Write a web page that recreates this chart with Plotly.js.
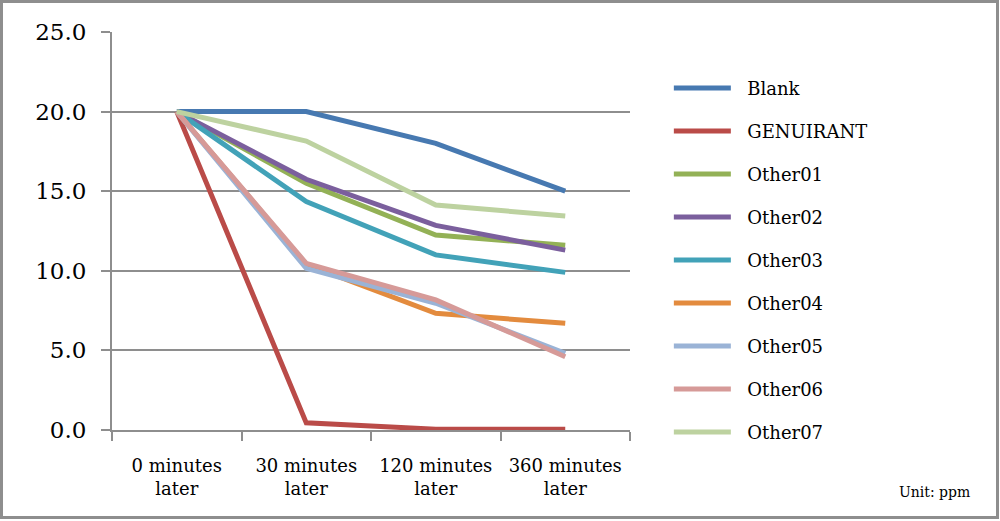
<!DOCTYPE html>
<html>
<head>
<meta charset="utf-8">
<script src="https://cdn.plot.ly/plotly-3.0.1.min.js"></script>
<style>
html,body{margin:0;padding:0;background:#fff;}
#chart{width:1000px;height:521px;}
#frame{position:absolute;left:0;top:0;width:999px;height:519px;box-sizing:border-box;border:3px solid #8e8e8e;pointer-events:none;}
</style>
</head>
<body>
<div id="chart"></div>
<div id="frame"></div>
<script>
const categories = ["0 minutes<br>later", "30 minutes<br>later", "120 minutes<br>later", "360 minutes<br>later"];
const seriesNames = ["Blank", "GENUIRANT", "Other01", "Other02", "Other03", "Other04", "Other05", "Other06", "Other07"];
const blank     = [20, 20, 18.0, 15.0];
const genuirant = [20, 0.45, 0.05, 0.04];
const other01   = [20, 15.5, 12.25, 11.6];
const other02   = [20, 15.75, 12.85, 11.3];
const other03   = [20, 14.35, 11.0, 9.9];
const other04   = [20, 10.4, 7.33, 6.7];
const other05   = [20, 10.15, 7.96, 4.82];
const other06   = [20, 10.47, 8.17, 4.6];
const other07   = [20, 18.15, 14.13, 13.44];
const yTicks = [0, 5, 10, 15, 20, 25];
const colors = ["#4779B1", "#BA4B48", "#93B156", "#7B5F9D", "#42A2B8", "#E38B3E", "#9AB3D6", "#D69A98", "#BDD2A0"];
const allValues = [blank, genuirant, other01, other02, other03, other04, other05, other06, other07];

const FONT = "DejaVu Serif, Liberation Serif, serif";
const NB = "\u00a0\u00a0";

const traces = allValues.map((vals, i) => ({
  type: "scatter",
  mode: "lines",
  name: NB + seriesNames[i],
  x: categories,
  y: vals,
  legendgroup: "g" + i,
  line: {color: colors[i], width: 5},
  hoverinfo: "skip"
}));

const layout = {
  width: 1000,
  height: 521,
  margin: {l: 112, r: 370, t: 32, b: 91},
  paper_bgcolor: "#ffffff",
  plot_bgcolor: "#ffffff",
  font: {family: FONT, color: "#000000"},
  showlegend: true,
  legend: {
    x: 1.075, xanchor: "left",
    y: 0.905, yanchor: "top",
    font: {family: FONT, size: 18, color: "#000"},
    itemwidth: 57,
    tracegroupgap: 16.6,
    traceorder: "grouped",
    bgcolor: "rgba(0,0,0,0)"
  },
  xaxis: {
    type: "category",
    range: [-0.5, 3.5],
    showgrid: false,
    showline: true,
    linecolor: "#8e8e8e",
    linewidth: 2,
    ticks: "outside",
    tickson: "boundaries",
    ticklen: 9,
    tickwidth: 2,
    tickcolor: "#8e8e8e",
    tickfont: {family: FONT, size: 18, color: "#000"},
    ticklabelstandoff: 18,
    zeroline: false,
    fixedrange: true
  },
  yaxis: {
    range: [0, 25],
    tickvals: yTicks,
    ticktext: yTicks.map(v => v.toFixed(1)),
    showgrid: true,
    gridcolor: "#8e8e8e",
    gridwidth: 2,
    showline: true,
    linecolor: "#8e8e8e",
    linewidth: 2,
    ticks: "outside",
    ticklen: 9,
    tickwidth: 2,
    tickcolor: "#8e8e8e",
    tickfont: {family: FONT, size: 23, color: "#000"},
    ticklabelstandoff: 10,
    zeroline: false,
    fixedrange: true
  },
  annotations: [{
    xref: "paper", yref: "paper",
    x: (972 - 112) / 518, y: -(492 - 430) / 398,
    xanchor: "right", yanchor: "middle",
    text: "Unit: ppm",
    showarrow: false,
    font: {family: FONT, size: 14, color: "#000"}
  }]
};

Plotly.newPlot("chart", traces, layout, {displayModeBar: false, staticPlot: true});
</script>
</body>
</html>
